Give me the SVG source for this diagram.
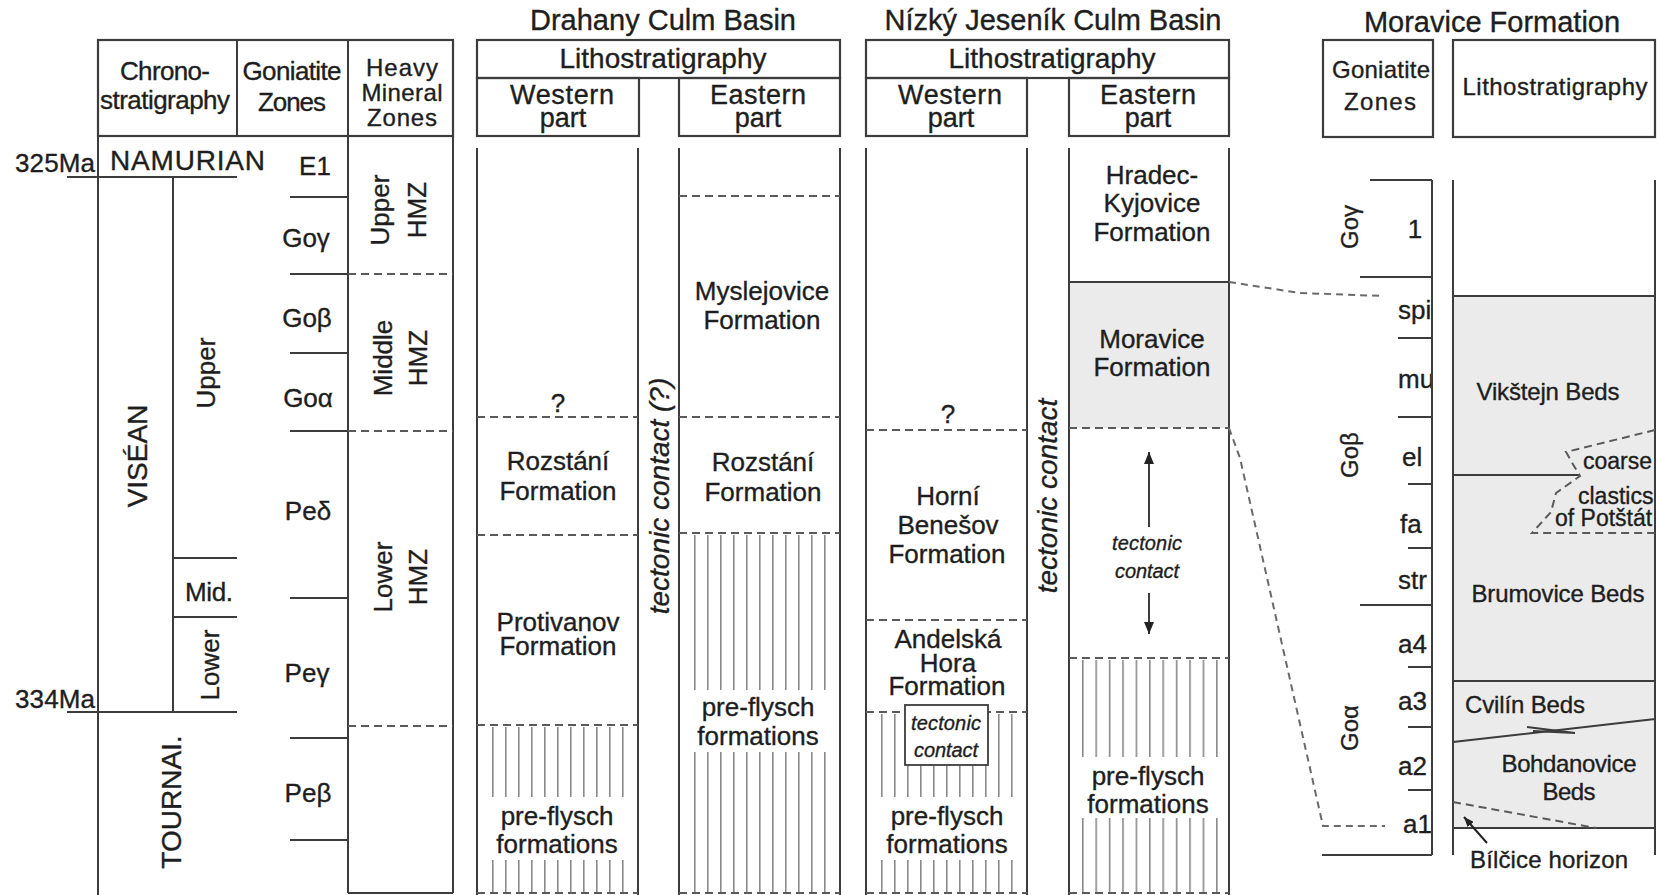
<svg xmlns="http://www.w3.org/2000/svg" width="1657" height="895" viewBox="0 0 1657 895">
<defs>
<style>
.t{font-family:"Liberation Sans",Arial,sans-serif;fill:#1e1e1e;font-size:26px;stroke:#1e1e1e;stroke-width:0.35px}
.c{text-anchor:middle}
.i{font-style:italic}
.ln{stroke:#3c3c3c;stroke-width:2;fill:none}
.bx{stroke:#3c3c3c;stroke-width:2.2;fill:none}
.dl{stroke:#5a5a5a;stroke-width:2;stroke-dasharray:8 5;fill:none}
.cn{stroke:#6a6a6a;stroke-width:2;stroke-dasharray:7 5;fill:none}
.gf{fill:#ebebeb}
.s24{font-size:24px}
.s27{font-size:27px}
.s28{font-size:28px}
.s29{font-size:29px}
</style>
<pattern id="hD1" patternUnits="userSpaceOnUse" x="492" y="0" width="13" height="20"><rect width="1.6" height="20" fill="#8a8a8a"/></pattern>
<pattern id="hD2" patternUnits="userSpaceOnUse" x="694" y="0" width="13" height="20"><rect width="1.6" height="20" fill="#8a8a8a"/></pattern>
<pattern id="hN1" patternUnits="userSpaceOnUse" x="881" y="0" width="13" height="20"><rect width="1.6" height="20" fill="#8a8a8a"/></pattern>
<pattern id="hN2" patternUnits="userSpaceOnUse" x="1082" y="0" width="13.4" height="20"><rect width="1.6" height="20" fill="#8a8a8a"/></pattern>
<marker id="ah" viewBox="0 0 12 10" refX="12" refY="5" markerWidth="12" markerHeight="10" orient="auto" markerUnits="userSpaceOnUse"><path d="M0,0 L12,5 L0,10 z" fill="#222"/></marker>
<marker id="ah2" viewBox="0 0 10 8" refX="10" refY="4" markerWidth="10" markerHeight="8" orient="auto" markerUnits="userSpaceOnUse"><path d="M0,0 L10,4 L0,8 z" fill="#222"/></marker>
<clipPath id="zc"><rect x="1300" y="150" width="131" height="720"/></clipPath>
<clipPath id="rc"><rect x="1453" y="150" width="201" height="720"/></clipPath>
</defs>
<rect width="1657" height="895" fill="#fff"/>

<g id="chrono-table">
  <rect class="bx" x="98" y="40" width="355" height="96"/>
  <path class="ln" d="M237,40 V136 M348,40 V136 M98,136 V895 M348,136 V893 M453,136 V893 M348,893 H453"/>
  <text class="t c" x="165" y="80" textLength="90">Chrono-</text>
  <text class="t c" x="165" y="109" textLength="130">stratigraphy</text>
  <text class="t c" x="292" y="80" textLength="99">Goniatite</text>
  <text class="t c" x="292" y="111" textLength="68">Zones</text>
  <text class="t c s24" x="402" y="76" textLength="72">Heavy</text>
  <text class="t c s24" x="402" y="101" textLength="81">Mineral</text>
  <text class="t c s24" x="402" y="126" textLength="70">Zones</text>
  <path class="ln" d="M67,177 H237 M173,177 V712 M67,712 H237 M173,558 H237 M173,617 H237"/>
  <text class="t" x="15" y="172" textLength="80">325Ma</text>
  <text class="t" x="15" y="708" textLength="80">334Ma</text>
  <text class="t s28" x="110" y="170" textLength="155">NAMURIAN</text>
  <text class="t c s28" transform="translate(147,456) rotate(-90)">VISÉAN</text>
  <text class="t c" transform="translate(215,373) rotate(-90)">Upper</text>
  <text class="t" x="185" y="601" textLength="48">Mid.</text>
  <text class="t c" transform="translate(219,665) rotate(-90)">Lower</text>
  <text class="t c s28" transform="translate(181,802) rotate(-90)">TOURNAI.</text>
  <path class="ln" d="M290,197 H348 M290,274 H348 M290,353 H348 M290,431 H348 M290,598 H348 M290,738 H348 M290,840 H348"/>
  <text class="t c" x="315" y="175">E1</text>
  <text class="t c" x="306" y="247">Goγ</text>
  <text class="t c" x="307" y="327">Goβ</text>
  <text class="t c" x="308" y="407">Goα</text>
  <text class="t c" x="308" y="520">Peδ</text>
  <text class="t c" x="307" y="682">Peγ</text>
  <text class="t c" x="308" y="802">Peβ</text>
  <path class="dl" d="M348,274 H453 M348,431 H453 M348,726 H453"/>
  <text class="t c" transform="translate(389,210) rotate(-90)">Upper</text>
  <text class="t c" transform="translate(426,210) rotate(-90)">HMZ</text>
  <text class="t c" transform="translate(392,358) rotate(-90)">Middle</text>
  <text class="t c" transform="translate(427,358) rotate(-90)">HMZ</text>
  <text class="t c" transform="translate(392,577) rotate(-90)">Lower</text>
  <text class="t c" transform="translate(427,577) rotate(-90)">HMZ</text>
</g>

<g id="drahany">
  <text class="t c s29" x="663" y="30">Drahany Culm Basin</text>
  <rect class="bx" x="477" y="40" width="363" height="38"/>
  <text class="t c s28" x="663" y="68">Lithostratigraphy</text>
  <rect class="bx" x="477" y="78" width="162" height="58"/>
  <rect class="bx" x="679" y="78" width="161" height="58"/>
  <text class="t c s27" x="562" y="104" textLength="104">Western</text>
  <text class="t c s27" x="563" y="127">part</text>
  <text class="t c s27" x="758" y="104" textLength="96">Eastern</text>
  <text class="t c s27" x="758" y="127">part</text>
  <rect x="486" y="727" width="146" height="70" fill="url(#hD1)"/>
  <rect x="486" y="860" width="146" height="33" fill="url(#hD1)"/>
  <rect x="688" y="535" width="146" height="155" fill="url(#hD2)"/>
  <rect x="688" y="752" width="146" height="141" fill="url(#hD2)"/>
  <path class="ln" d="M477,148 V895 M638,148 V895 M679,148 V895 M840,148 V895"/>
  <path class="dl" d="M679,196 H840 M679,417 H840 M679,533 H840 M477,417 H638 M477,535 H638 M477,725 H638 M477,893 H638 M679,893 H840"/>
  <text class="t c" x="762" y="300">Myslejovice</text>
  <text class="t c" x="762" y="329">Formation</text>
  <text class="t c" x="558" y="412">?</text>
  <text class="t c" x="558" y="470">Rozstání</text>
  <text class="t c" x="558" y="500">Formation</text>
  <text class="t c" x="763" y="471">Rozstání</text>
  <text class="t c" x="763" y="501">Formation</text>
  <text class="t c" x="558" y="631">Protivanov</text>
  <text class="t c" x="558" y="655">Formation</text>
  <text class="t c" x="557" y="825">pre-flysch</text>
  <text class="t c" x="557" y="853">formations</text>
  <text class="t c" x="758" y="716">pre-flysch</text>
  <text class="t c" x="758" y="745">formations</text>
  <text class="t c i s28" transform="translate(669,496) rotate(-90)">tectonic contact (?)</text>
</g>

<g id="nizky-jesenik">
  <text class="t c s29" x="1053" y="30">Nízký Jeseník Culm Basin</text>
  <rect class="bx" x="866" y="40" width="363" height="38"/>
  <text class="t c s28" x="1052" y="68">Lithostratigraphy</text>
  <rect class="bx" x="866" y="78" width="161" height="58"/>
  <rect class="bx" x="1069" y="78" width="160" height="58"/>
  <text class="t c s27" x="950" y="104" textLength="104">Western</text>
  <text class="t c s27" x="951" y="127">part</text>
  <text class="t c s27" x="1148" y="104" textLength="96">Eastern</text>
  <text class="t c s27" x="1148" y="127">part</text>
  <rect class="gf" x="1069" y="282" width="160" height="146"/>
  <rect x="875" y="714" width="144" height="83" fill="url(#hN1)"/>
  <rect x="875" y="860" width="144" height="33" fill="url(#hN1)"/>
  <rect x="1076" y="660" width="146" height="97" fill="url(#hN2)"/>
  <rect x="1076" y="818" width="146" height="75" fill="url(#hN2)"/>
  <path class="ln" d="M866,148 V895 M1027,148 V895 M1069,148 V895 M1229,148 V895 M1069,282 H1229"/>
  <path class="dl" d="M1069,428 H1229 M1069,658 H1229 M866,430 H1027 M866,620 H1027 M866,712 H1027 M866,893 H1027 M1069,893 H1229"/>
  <text class="t c" x="1152" y="184">Hradec-</text>
  <text class="t c" x="1152" y="212">Kyjovice</text>
  <text class="t c" x="1152" y="241">Formation</text>
  <text class="t c" x="1152" y="348">Moravice</text>
  <text class="t c" x="1152" y="376">Formation</text>
  <text class="t c" x="948" y="423">?</text>
  <text class="t c" x="948" y="505">Horní</text>
  <text class="t c" x="948" y="534">Benešov</text>
  <text class="t c" x="947" y="563">Formation</text>
  <text class="t c" x="948" y="648">Andelská</text>
  <text class="t c" x="948" y="672">Hora</text>
  <text class="t c" x="947" y="695">Formation</text>
  <rect x="905" y="705" width="83" height="60" fill="#fff" stroke="#3c3c3c" stroke-width="1.8"/>
  <text class="t c i" x="946" y="730" style="font-size:20px" textLength="70">tectonic</text>
  <text class="t c i" x="946" y="757" style="font-size:20px" textLength="64">contact</text>
  <text class="t c" x="947" y="825">pre-flysch</text>
  <text class="t c" x="947" y="853">formations</text>
  <text class="t c" x="1148" y="785">pre-flysch</text>
  <text class="t c" x="1148" y="813">formations</text>
  <path class="ln" d="M1149,527 V452" marker-end="url(#ah)"/>
  <path class="ln" d="M1149,593 V634" marker-end="url(#ah)"/>
  <text class="t c i" x="1147" y="550" style="font-size:20px" textLength="70">tectonic</text>
  <text class="t c i" x="1147" y="578" style="font-size:20px" textLength="64">contact</text>
  <text class="t c i s28" transform="translate(1057,496) rotate(-90)">tectonic contact</text>
</g>

<g id="moravice-formation">
  <text class="t c s29" x="1492" y="32">Moravice Formation</text>
  <rect class="bx" x="1323" y="40" width="110" height="97"/>
  <rect class="bx" x="1453" y="40" width="202" height="97"/>
  <text class="t c s24" x="1381" y="78" textLength="98">Goniatite</text>
  <text class="t c s24" x="1380" y="110" textLength="72">Zones</text>
  <text class="t c s24" x="1555" y="95" textLength="185">Lithostratigraphy</text>
  <rect class="gf" x="1453" y="296" width="202" height="532"/>
  <path class="ln" d="M1432,180 V855 M1370,180 H1432 M1360,277 H1432 M1398,338 H1432 M1398,417 H1432 M1408,484 H1432 M1408,548 H1432 M1360,605 H1432 M1408,667 H1432 M1408,727 H1432 M1408,790 H1432 M1322,855 H1432"/>
  <text class="t c s24" transform="translate(1358,227) rotate(-90)">Goγ</text>
  <text class="t c s24" transform="translate(1358,455) rotate(-90)">Goβ</text>
  <text class="t c s24" transform="translate(1358,728) rotate(-90)">Goα</text>
  <g clip-path="url(#zc)">
    <text class="t c" x="1415" y="238">1</text>
    <text class="t" x="1398" y="319">spi</text>
    <text class="t" x="1398" y="388">mu</text>
    <text class="t" x="1402" y="466">el</text>
    <text class="t" x="1400" y="533">fa</text>
    <text class="t" x="1398" y="589">str</text>
    <text class="t" x="1398" y="653">a4</text>
    <text class="t" x="1398" y="710">a3</text>
    <text class="t" x="1398" y="775">a2</text>
    <text class="t" x="1403" y="833">a1</text>
  </g>
  <path class="ln" d="M1453,180 V855 M1655,180 V855 M1453,296 H1655 M1453,475 H1580 M1453,681 H1655 M1453,742 L1655,719 M1453,828 H1655"/>
  <path d="M1527,727 L1575,733 M1533,731 L1575,733" stroke="#3c3c3c" stroke-width="2" fill="none"/>
  <path class="dl" d="M1655,430 L1566,452 L1574,466 L1580,476 L1556,493 L1551,512 L1532,533 H1655"/>
  <path class="dl" d="M1453,802 L1596,828"/>
  <text class="t s24" x="1548" y="400" text-anchor="middle" textLength="143">Vikštejn Beds</text>
  <text class="t s24" x="1558" y="602" text-anchor="middle" textLength="173">Brumovice Beds</text>
  <text class="t s24" x="1465" y="713" textLength="120">Cvilín Beds</text>
  <text class="t s24" x="1569" y="772" text-anchor="middle" textLength="135">Bohdanovice</text>
  <text class="t s24" x="1569" y="800" text-anchor="middle" textLength="53">Beds</text>
  <g clip-path="url(#rc)">
    <text class="t" x="1583" y="469" style="font-size:23px">coarse</text>
    <text class="t" x="1578" y="504" style="font-size:23px">clastics</text>
    <text class="t" x="1555" y="526" style="font-size:23px">of Potštát</text>
  </g>
  <path d="M1487,843 L1464,817" stroke="#222" stroke-width="2" fill="none" marker-end="url(#ah2)"/>
  <text class="t s24" x="1470" y="868" textLength="158">Bílčice  horizon</text>
</g>

<g id="connectors">
  <polyline class="cn" points="1229,282 1300,293 1383,296"/>
  <polyline class="cn" points="1229,428 1240,458 1323,826 1385,826"/>
</g>
</svg>
